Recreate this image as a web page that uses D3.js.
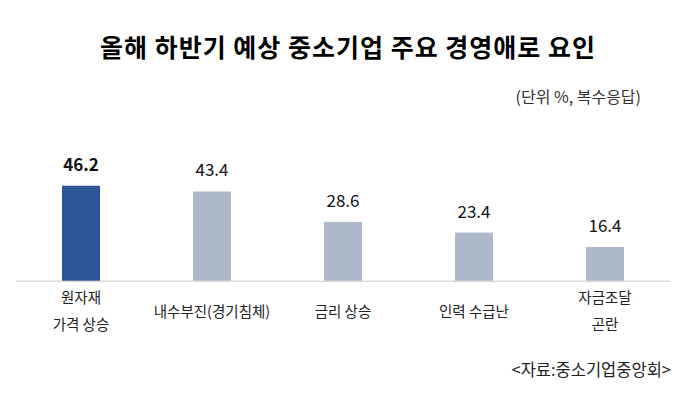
<!DOCTYPE html>
<html><head><meta charset="utf-8">
<script src="https://cdn.jsdelivr.net/npm/d3@7"></script>
<style>
html,body{margin:0;padding:0;background:#fff;}
svg{display:block;}
text{font-family:"Noto Sans CJK KR","Noto Sans",sans-serif;}
</style></head>
<body>
<svg id="chart" width="700" height="394"></svg>
<script>
const title = "올해 하반기 예상 중소기업 주요 경영애로 요인";
const unitNote = "(단위 %, 복수응답)";
const source = "<자료:중소기업중앙회>";
const categories = ["원자재\n가격 상승", "내수부진(경기침체)", "금리 상승", "인력 수급난", "자금조달\n곤란"];
const values = [46.2, 43.4, 28.6, 23.4, 16.4];
const highlight = [true, false, false, false, false];

const svg = d3.select("#chart");
svg.append("rect").attr("width",700).attr("height",394).attr("fill","#fff");

const x = d3.scaleBand().domain(categories).range([15.5, 670.5]).paddingInner(0.71).paddingOuter(0.355);
const y = d3.scaleLinear().domain([0, 50]).range([280.7, 177.9]);

svg.append("text").attr("x", 348).attr("y", 57).attr("text-anchor","middle")
  .attr("font-size", 25).attr("font-weight", "bold").attr("letter-spacing", 1)
  .attr("fill", "#000").text(title);
svg.append("text").attr("x", 641).attr("y", 103).attr("text-anchor","end")
  .attr("font-size", 16).attr("fill", "#333").text(unitNote);

const axis = d3.axisBottom(x).tickSize(0).tickFormat("");
const ax = svg.append("g").attr("transform", `translate(0,${y(0)})`).call(axis);
ax.select(".domain").attr("stroke", "#c8c8c8").attr("d", "M16,0.5H670");

svg.selectAll(".bar").data(values).enter().append("rect")
  .attr("x", (d,i) => x(categories[i]))
  .attr("y", d => y(d))
  .attr("width", x.bandwidth())
  .attr("height", d => y(0) - y(d))
  .attr("fill", (d,i) => highlight[i] ? "#2F5597" : "#ADB9CA");

svg.selectAll(".val").data(values).enter().append("text")
  .attr("x", (d,i) => x(categories[i]) + x.bandwidth()/2)
  .attr("y", d => y(d) - 15)
  .attr("text-anchor","middle")
  .attr("font-size", 17)
  .attr("font-weight", (d,i) => highlight[i] ? "bold" : "normal")
  .attr("fill", "#111")
  .attr("font-family", "'Open Sans','Noto Sans',sans-serif")
  .text(d => d.toFixed(1));

categories.forEach((c,i) => {
  const lines = c.split("\n");
  const cx = x(c) + x.bandwidth()/2;
  const t = svg.append("text").attr("text-anchor","middle").attr("font-size", 14.5).attr("fill","#222");
  const y0 = lines.length === 1 ? 317 : 303;
  lines.forEach((l,j) => t.append("tspan").attr("x", cx).attr("y", y0 + j*26.5).text(l));
});

svg.append("text").attr("x", 671).attr("y", 376).attr("text-anchor","end")
  .attr("font-size", 16.5).attr("fill","#222").text(source);
</script>
</body></html>
